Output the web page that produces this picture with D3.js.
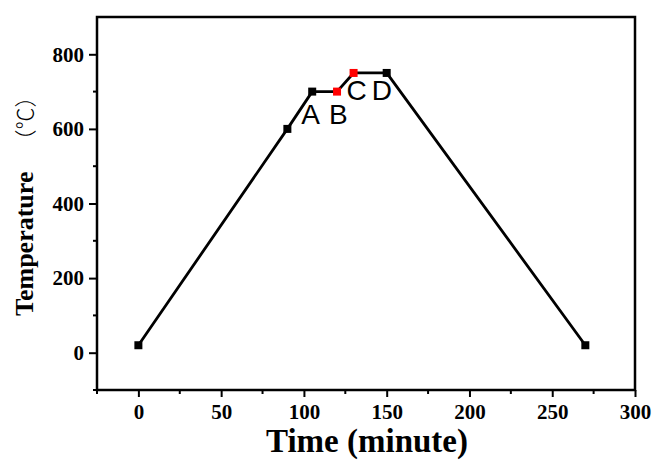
<!DOCTYPE html>
<html><head><meta charset="utf-8">
<script src="https://cdn.jsdelivr.net/npm/d3@7"></script>
<style>body{margin:0;background:#fff}svg{display:block}</style>
</head><body>
<script>
const times = [0, 90, 105, 120, 130, 150, 270];
const temps = [20, 600, 700, 700, 750, 750, 20];
const pointColors = ["#000", "#000", "#000", "#f00", "#f00", "#000", "#000"];
const xTicks = [0, 50, 100, 150, 200, 250, 300];
const yTicks = [0, 200, 400, 600, 800];
const labels = ["A", "B", "C", "D"];
const labelTimes = [105, 120, 130, 150];
const labelTemps = [700, 700, 750, 750];

const W = 657, H = 462;
const svg = d3.select("body").append("svg").attr("width", W).attr("height", H);
const m = {l: 97, r: 635, t: 17, b: 390};
const x = d3.scaleLinear().domain([-25, 300]).range([m.l, m.r]);
const y = d3.scaleLinear().domain([-100, 900]).range([m.b, m.t]);
const serif = "'Liberation Serif','Times New Roman',serif";

// frame
svg.append("rect").attr("x", m.l).attr("y", m.t).attr("width", m.r - m.l).attr("height", m.b - m.t)
  .attr("fill", "none").attr("stroke", "#000").attr("stroke-width", 2.5);

// minor ticks
const xMinor = d3.range(-25, 300, 50);
const yMinor = d3.range(-100, 900, 200);
svg.append("g").selectAll("line").data(xMinor).join("line")
  .attr("x1", d => x(d)).attr("x2", d => x(d)).attr("y1", m.b).attr("y2", m.b + 4)
  .attr("stroke", "#000").attr("stroke-width", 2);
svg.append("g").selectAll("line").data(yMinor).join("line")
  .attr("y1", d => y(d)).attr("y2", d => y(d)).attr("x1", m.l).attr("x2", m.l - 4)
  .attr("stroke", "#000").attr("stroke-width", 2);

const xAxis = svg.append("g").attr("transform", `translate(0,${m.b})`)
  .call(d3.axisBottom(x).tickValues(xTicks).tickSize(7).tickPadding(7).tickFormat(d3.format("d")));
const yAxis = svg.append("g").attr("transform", `translate(${m.l},0)`)
  .call(d3.axisLeft(y).tickValues(yTicks).tickSize(8).tickPadding(5).tickFormat(d3.format("d")));
[xAxis, yAxis].forEach(g => {
  g.select(".domain").remove();
  g.selectAll(".tick line").attr("stroke", "#000").attr("stroke-width", 2);
  g.selectAll("text").attr("font-family", serif)
    .attr("font-weight", "bold").attr("font-size", 21).attr("fill", "#000");
});

// line
const line = d3.line().x(d => x(d[0])).y(d => y(d[1]));
const pts = times.map((t, i) => [t, temps[i], pointColors[i]]);
svg.append("path").datum(pts).attr("d", line).attr("fill", "none")
  .attr("stroke", "#000").attr("stroke-width", 2.8).attr("stroke-linejoin", "round");
svg.append("g").selectAll("rect").data(pts).join("rect")
  .attr("x", d => x(d[0]) - 4).attr("y", d => y(d[1]) - 4).attr("width", 8).attr("height", 8)
  .attr("fill", d => d[2]);

// letter labels
const offs = [[-11, 32], [-8, 32], [-7, 27], [-15, 27]];
svg.append("g").selectAll("text").data(labels).join("text")
  .attr("x", (d, i) => x(labelTimes[i]) + offs[i][0])
  .attr("y", (d, i) => y(labelTemps[i]) + offs[i][1])
  .attr("font-family", "'Liberation Sans',Arial,sans-serif").attr("font-size", 28).attr("fill", "#000")
  .text(d => d);

// axis titles
svg.append("text").attr("x", 367).attr("y", 452).attr("text-anchor", "middle")
  .attr("font-family", serif).attr("font-weight", "bold")
  .attr("font-size", 33).attr("fill", "#000").text("Time (minute)");
const yt = svg.append("text").attr("transform", "translate(33,316) rotate(-90)").attr("text-anchor", "start")
  .attr("font-family", serif).attr("font-size", 26).attr("fill", "#000");
yt.append("tspan").attr("font-weight", "bold").text("Temperature");
yt.append("tspan").attr("dx", 20).attr("font-family", "'Noto Sans CJK SC',sans-serif").attr("font-weight", "300").attr("font-size", 22).text("（℃）");
</script>
</body></html>
